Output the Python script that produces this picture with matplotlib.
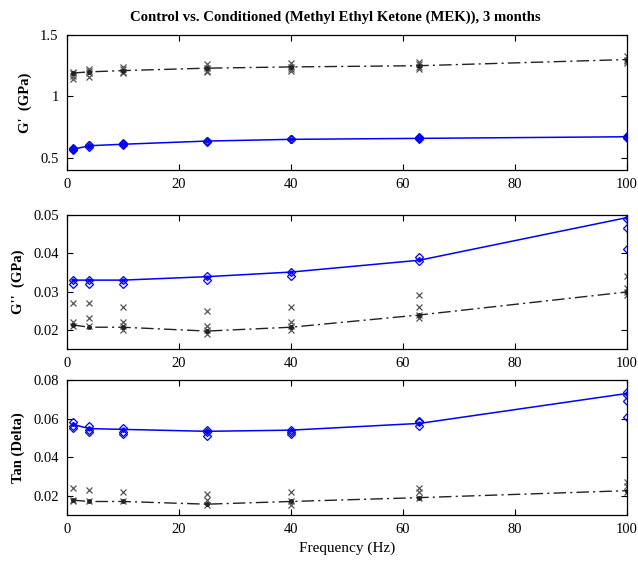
import matplotlib
matplotlib.use("Agg")
import matplotlib.pyplot as plt
import numpy as np

plt.rcParams['font.family'] = ['Liberation Serif', 'DejaVu Serif']

freq = [1, 4, 10, 25, 40, 63, 100]

# G' (GPa)
gp_ctrl_mean = [1.19, 1.20, 1.21, 1.23, 1.24, 1.25, 1.30]
gp_ctrl_samples = [[1.14, 1.17, 1.19, 1.20], [1.16, 1.19, 1.21, 1.22], [1.19, 1.20, 1.22, 1.24],
                   [1.20, 1.21, 1.23, 1.26], [1.21, 1.22, 1.24, 1.27], [1.22, 1.24, 1.26, 1.28],
                   [1.27, 1.29, 1.30, 1.33]]
gp_cond_mean = [0.568, 0.598, 0.61, 0.636, 0.65, 0.658, 0.671]
gp_cond_samples = [[0.56, 0.57, 0.58], [0.59, 0.60, 0.60], [0.60, 0.61, 0.62], [0.63, 0.64, 0.64],
                   [0.65, 0.65, 0.65], [0.65, 0.66, 0.67], [0.66, 0.67, 0.68]]

# G'' (GPa)
gpp_ctrl_mean = [0.0213, 0.0207, 0.0207, 0.0197, 0.0207, 0.0239, 0.0299]
gpp_ctrl_samples = [[0.027, 0.022, 0.021], [0.027, 0.023, 0.021], [0.026, 0.022, 0.021, 0.020],
                    [0.025, 0.021, 0.020, 0.019], [0.026, 0.022, 0.021, 0.020],
                    [0.029, 0.026, 0.024, 0.023], [0.034, 0.031, 0.030, 0.029]]
gpp_cond_mean = [0.033, 0.033, 0.033, 0.0339, 0.0351, 0.0382, 0.0493]
gpp_cond_samples = [[0.033, 0.032], [0.033, 0.032], [0.033, 0.032], [0.034, 0.033],
                    [0.035, 0.034], [0.038, 0.039], [0.049, 0.0465, 0.041]]

# Tan (Delta)
tan_ctrl_mean = [0.0177, 0.017, 0.017, 0.0156, 0.017, 0.019, 0.0226]
tan_ctrl_samples = [[0.024, 0.018, 0.017], [0.023, 0.017], [0.022, 0.017], [0.021, 0.018, 0.015],
                    [0.022, 0.017, 0.015], [0.024, 0.022, 0.019], [0.027, 0.025, 0.022]]
tan_cond_mean = [0.057, 0.0548, 0.0544, 0.0534, 0.054, 0.0575, 0.073]
tan_cond_samples = [[0.058, 0.056, 0.055], [0.056, 0.054, 0.053], [0.055, 0.053, 0.052],
                    [0.054, 0.053, 0.051], [0.054, 0.053, 0.052], [0.059, 0.058, 0.056],
                    [0.074, 0.072, 0.069, 0.061]]

title = "Control vs. Conditioned (Methyl Ethyl Ketone (MEK)), 3 months"
ylabels = ["G'  (GPa)", "G''  (GPa)", "Tan (Delta)"]
ylims = [(0.4, 1.5), (0.015, 0.05), (0.01, 0.08)]
yticks = [[0.5, 1, 1.5], [0.02, 0.03, 0.04, 0.05], [0.02, 0.04, 0.06, 0.08]]
yticklabels = [["0.5", "1", "1.5"], ["0.02", "0.03", "0.04", "0.05"], ["0.02", "0.04", "0.06", "0.08"]]

panels = [
    (gp_ctrl_mean, gp_ctrl_samples, gp_cond_mean, gp_cond_samples),
    (gpp_ctrl_mean, gpp_ctrl_samples, gpp_cond_mean, gpp_cond_samples),
    (tan_ctrl_mean, tan_ctrl_samples, tan_cond_mean, tan_cond_samples),
]

fig = plt.figure(figsize=(6.38, 5.63), dpi=100)
L, W = 0.105, 0.877
rects = [
    [L, 0.698, W, 0.2398],
    [L, 0.380, W, 0.2381],
    [L, 0.0853, W, 0.2397],
]
blue = '#0000ff'
for i, (rect, (cm, cs, bm, bs)) in enumerate(zip(rects, panels)):
    ax = fig.add_axes(rect)
    # control samples
    for f, vals in zip(freq, cs):
        ax.plot([f] * len(vals), vals, linestyle='none', marker='x', color='#555555',
                markersize=5, markeredgewidth=0.9)
    ax.plot(freq, cm, color='#222222', linestyle=(0, (9, 3, 1.5, 3)), linewidth=1.0,
            marker='.', markersize=5)
    # conditioned samples
    for f, vals in zip(freq, bs):
        ax.plot([f] * len(vals), vals, linestyle='none', marker='D', color=blue,
                markerfacecolor='none', markersize=4.5, markeredgewidth=0.9)
    ax.plot(freq, bm, color=blue, linewidth=1.1, marker='.', markersize=4)

    ax.set_xlim(0, 100)
    ax.set_ylim(*ylims[i])
    ax.set_xticks([0, 20, 40, 60, 80, 100])
    ax.set_yticks(yticks[i])
    ax.set_yticklabels(yticklabels[i])
    ax.tick_params(direction='in', top=True, right=True, labelsize=10.5, length=4.5, width=0.8,
                   pad=6)
    for sp in ax.spines.values():
        sp.set_linewidth(0.9)
    ax.set_ylabel(ylabels[i], fontsize=10.5, fontweight='bold', labelpad=6)
    if i == 2:
        ax.set_xlabel("Frequency (Hz)", fontsize=11, labelpad=4)

fig.text(0.525, 0.97, title, fontsize=10.6, fontweight='bold', ha='center', va='center')

fig.savefig("out.png", dpi=100)
